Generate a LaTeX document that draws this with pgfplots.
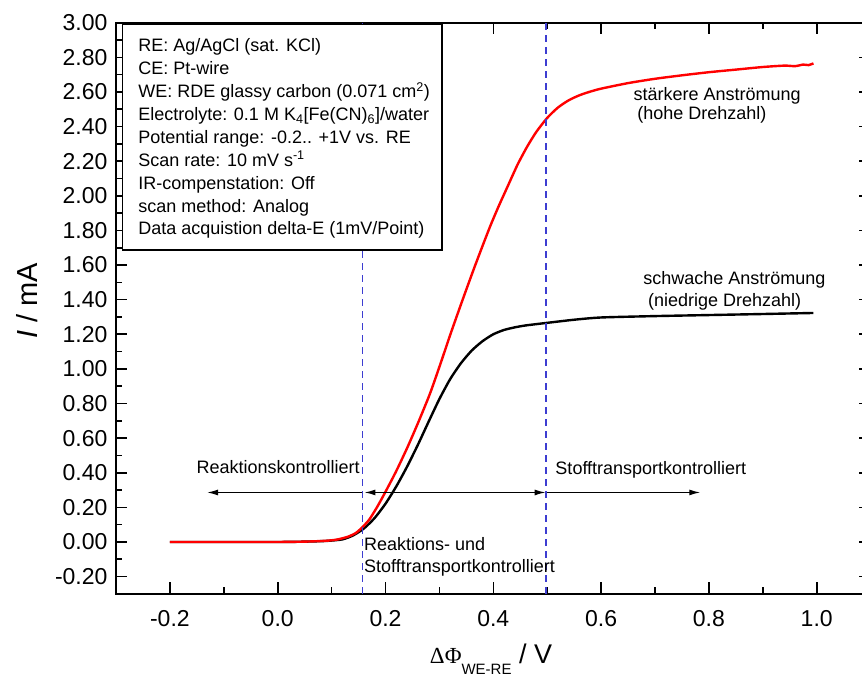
\documentclass[border=0pt]{standalone}
\usepackage{fontspec}
\setmainfont{Liberation Sans}
\newfontfamily\greekserif{Liberation Serif}
\usepackage{pgfplots}
\pgfplotsset{compat=1.18}
\usetikzlibrary{arrows.meta}

\definecolor{dashblue}{rgb}{0.24,0.24,0.82}
\newcommand{\annfont}{\fontsize{18}{21}\selectfont}

\begin{document}
\begin{tikzpicture}
\begin{axis}[
  at={(0,0)}, anchor=south west,
  scale only axis,
  width=754.6pt, height=571.2pt,
  xmin=-0.3, xmax=1.1,
  ymin=-0.3, ymax=3.0,
  xtick={-0.2,0,0.2,0.4,0.6,0.8,1.0},
  ytick={-0.2,0,0.2,0.4,0.6,0.8,1.0,1.2,1.4,1.6,1.8,2.0,2.2,2.4,2.6,2.8,3.0},
  minor x tick num=1,
  minor y tick num=1,
  tick align=inside,
  major tick length=11.5pt,
  minor tick length=6.5pt,
  axis line style={line width=2pt},
  every tick/.style={black, line width=1.6pt},
  xticklabel={\pgfmathprintnumber[fixed,fixed zerofill,precision=1,assume math mode=true]{\tick}},
  yticklabel={\pgfmathprintnumber[fixed,fixed zerofill,precision=2,assume math mode=true]{\tick}},
  xticklabel style={font=\fontsize{23}{26}\selectfont, yshift=-13pt},
  yticklabel style={font=\fontsize{23}{26}\selectfont, xshift=-5pt},
  xlabel={{\greekserif ΔΦ}\raisebox{-11pt}{\fontsize{15}{15}\selectfont WE-RE}\fontsize{27}{30}\selectfont{} / V},
  ylabel={\textit{I} / mA},
  xlabel style={font=\fontsize{23}{26}\selectfont, at={(axis description cs:0.497,-0.1226)}, anchor=base},
  ylabel style={font=\fontsize{29}{32}\selectfont, at={(axis description cs:-0.1034,0.513)}, anchor=base, rotate=0},
]

% schwache Anströmung
\addplot[black, line width=2.4pt, smooth, tension=0.4] coordinates {
(-0.2,0) (0.0,0.0) (0.05,0.002) (0.09,0.006) (0.12,0.015) (0.14,0.038)
(0.16,0.078) (0.18,0.139) (0.20,0.221) (0.22,0.321) (0.24,0.435)
(0.26,0.561) (0.28,0.695) (0.30,0.826) (0.32,0.941) (0.34,1.033)
(0.36,1.106) (0.38,1.160) (0.40,1.200) (0.42,1.225) (0.44,1.240)
(0.46,1.251) (0.50,1.266) (0.55,1.284) (0.60,1.297) (0.70,1.305)
(0.80,1.311) (0.90,1.317) (0.994,1.323)
};

% stärkere Anströmung
\addplot[red, line width=2.4pt, smooth, tension=0.4] coordinates {
(-0.2,0) (-0.1,0.0) (0.0,0.0) (0.05,0.002) (0.09,0.007) (0.11,0.014)
(0.13,0.03) (0.145,0.052) (0.157,0.085) (0.17,0.13) (0.185,0.205)
(0.20,0.29) (0.22,0.41) (0.241,0.549) (0.262,0.70) (0.283,0.861)
(0.302,1.03) (0.321,1.205) (0.342,1.39) (0.363,1.57) (0.38,1.71)
(0.395,1.83) (0.41,1.94) (0.426,2.05) (0.445,2.18) (0.463,2.285)
(0.48,2.37) (0.50,2.45) (0.52,2.51) (0.54,2.552) (0.56,2.581)
(0.58,2.602) (0.60,2.619) (0.65,2.651) (0.70,2.676) (0.75,2.696)
(0.80,2.714) (0.85,2.729) (0.90,2.744) (0.94,2.752) (0.96,2.749)
(0.975,2.758) (0.985,2.755) (0.994,2.765)
};

% Bereichsgrenzen
\addplot[dashblue, line width=1.5pt, dash pattern=on 7pt off 5pt] coordinates {(0.157,-0.3) (0.157,3.0)};
\addplot[dashblue, line width=1.5pt, dash pattern=on 7pt off 5pt] coordinates {(0.498,-0.3) (0.498,3.0)};

% Messparameter
\draw[fill=white, line width=1.3pt] (axis cs:-0.288,2.99) rectangle (axis cs:0.305,1.687);
\node[anchor=base west, inner sep=0pt, font=\annfont] at (axis cs:-0.259,2.832) {RE: Ag/AgCl (sat. KCl)};
\node[anchor=base west, inner sep=0pt, font=\annfont] at (axis cs:-0.259,2.700) {CE: Pt-wire};
\node[anchor=base west, inner sep=0pt, font=\annfont] at (axis cs:-0.259,2.568) {WE: RDE glassy carbon (0.071 cm\textsuperscript{2})};
\node[anchor=base west, inner sep=0pt, font=\annfont] at (axis cs:-0.259,2.435) {Electrolyte: 0.1 M K\textsubscript{4}[Fe(CN)\textsubscript{6}]/water};
\node[anchor=base west, inner sep=0pt, font=\annfont] at (axis cs:-0.259,2.303) {Potential range: -0.2.. +1V vs. RE};
\node[anchor=base west, inner sep=0pt, font=\annfont] at (axis cs:-0.259,2.171) {Scan rate: 10 mV s\textsuperscript{-1}};
\node[anchor=base west, inner sep=0pt, font=\annfont] at (axis cs:-0.259,2.038) {IR-compenstation: Off};
\node[anchor=base west, inner sep=0pt, font=\annfont] at (axis cs:-0.259,1.906) {scan method: Analog};
\node[anchor=base west, inner sep=0pt, font=\annfont] at (axis cs:-0.259,1.774) {Data acquistion delta-E (1mV/Point)};

% Kurvenbeschriftung
\node[anchor=base west, inner sep=0pt, font=\annfont] at (axis cs:0.660,2.553) {stärkere Anströmung};
\node[anchor=base west, inner sep=0pt, font=\annfont] at (axis cs:0.667,2.438) {(hohe Drehzahl)};
\node[anchor=base west, inner sep=0pt, font=\annfont] at (axis cs:0.678,1.485) {schwache Anströmung};
\node[anchor=base west, inner sep=0pt, font=\annfont] at (axis cs:0.687,1.363) {(niedrige Drehzahl)};

% Bereiche
\node[anchor=base west, inner sep=0pt, font=\annfont] at (axis cs:-0.151,0.393) {Reaktionskontrolliert};
\node[anchor=base west, inner sep=0pt, font=\annfont] at (axis cs:0.515,0.387) {Stofftransportkontrolliert};
\node[anchor=base west, inner sep=0pt, font=\annfont] at (axis cs:0.160,-0.052) {Reaktions- und};
\node[anchor=base west, inner sep=0pt, font=\annfont] at (axis cs:0.160,-0.178) {Stofftransportkontrolliert};

\draw[line width=1.3pt, -{Latex[length=11pt,width=6pt]}] (axis cs:0.157,0.286) -- (axis cs:-0.131,0.286);
\draw[line width=1.3pt, {Latex[length=11pt,width=6pt]}-{Latex[length=11pt,width=6pt]}] (axis cs:0.161,0.286) -- (axis cs:0.497,0.286);
\draw[line width=1.3pt, -{Latex[length=11pt,width=6pt]}] (axis cs:0.499,0.286) -- (axis cs:0.784,0.286);
\end{axis}
\pgfresetboundingbox
\path[use as bounding box] (-116pt,-84.1pt) rectangle (746pt,593.9pt);
\end{tikzpicture}
\end{document}
